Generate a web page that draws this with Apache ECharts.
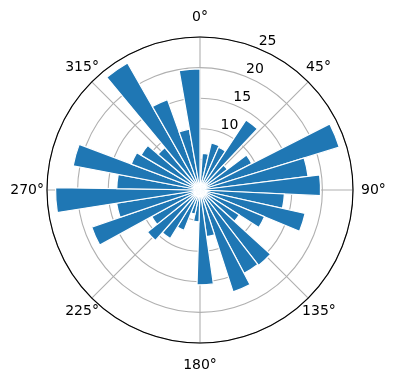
<!DOCTYPE html>
<html>
<head>
<meta charset="utf-8">
<script src="https://cdn.jsdelivr.net/npm/echarts@6/dist/echarts.min.js"></script>
<style>
  html, body { margin: 0; padding: 0; background: #fff; }
  #chart { width: 396px; height: 380px; }
</style>
</head>
<body>
<div id="chart"></div>
<script>
// bin centres (deg, clockwise from north) and bar heights
const directions = [8.55, 18.45, 28.35, 38.25, 48.15, 58.05, 67.95, 77.85, 87.75, 97.65,
  107.55, 117.45, 127.35, 137.25, 147.15, 157.05, 166.95, 176.85, 186.75, 196.65,
  206.55, 216.45, 226.35, 236.25, 246.15, 256.05, 265.95, 275.85, 285.75, 295.65,
  305.55, 315.45, 325.35, 335.25, 345.15, 355.05]
const counts = [6.0, 7.9, 7.6, 13.7, 5.6, 9.5, 23.8, 17.8, 19.7, 13.8,
  17.6, 11.4, 7.6, 15.6, 15.4, 17.5, 7.7, 15.5, 5.2, 4.0,
  7.1, 9.3, 11.0, 9.0, 18.7, 13.8, 23.6, 13.6, 21.1, 12.0,
  11.2, 9.0, 23.9, 15.7, 10.1, 19.8]
const binWidth = 9.9
const radialTicks = [0, 5, 10, 15, 20, 25]

const font = 'DejaVu Sans'
const txt = { color: '#000', fontFamily: font, fontSize: 14, lineHeight: 16 }
// echarts anchors angle labels by their edge; padding nudges them to sit
// centred around the circle like the original
const labelPad = {
  0: [0, 0, 44, 0],
  45: [0, 0, 28, 5],
  90: [0, 0, 0, 18],
  135: [24, 0, 0, 1],
  180: [48, 0, 0, 0],
  225: [24, 0, 0, 0],
  270: [0, 13, 0, 0],
  315: [0, 0, 28, 0]
}
const rich = {}
Object.keys(labelPad).forEach(k => { rich['a' + k] = Object.assign({ padding: labelPad[k] }, txt) })

const myChart = echarts.init(document.getElementById('chart'))

myChart.setOption({
  animation: false,
  polar: [
    { center: [200, 190], radius: 153 },
    // same scale, pushed out a bit, just to hold the radial tick labels
    { center: [200, 190], radius: [10, 163] }
  ],
  angleAxis: [{
    polarIndex: 0,
    type: 'value',
    min: 0,
    max: 360,
    interval: 45,
    startAngle: 90,
    clockwise: true,
    axisLine: { lineStyle: { color: '#000', width: 1.1 } },
    axisTick: { show: false },
    axisLabel: {
      formatter: v => (labelPad[v] ? '{a' + v + '|' + v + '°}' : ''),
      margin: -10,
      color: '#000',
      fontFamily: font,
      fontSize: 14,
      rich: rich
    },
    splitLine: { lineStyle: { color: '#b0b0b0', width: 1.1 } }
  }, {
    polarIndex: 1,
    type: 'value',
    min: 0,
    max: 360,
    startAngle: 65.5,
    clockwise: true,
    axisLine: { show: false },
    axisTick: { show: false },
    axisLabel: { show: false },
    splitLine: { show: false }
  }],
  radiusAxis: [{
    polarIndex: 0,
    type: 'value',
    min: radialTicks[0],
    max: radialTicks[radialTicks.length - 1],
    interval: 5,
    axisLine: { show: false },
    axisTick: { show: false },
    axisLabel: { show: false },
    splitLine: { lineStyle: { color: '#b0b0b0', width: 1.1 } }
  }, {
    polarIndex: 1,
    type: 'value',
    min: radialTicks[0],
    max: radialTicks[radialTicks.length - 1],
    interval: 5,
    axisLine: { show: false },
    axisTick: { show: false },
    splitLine: { show: false },
    axisLabel: {
      color: '#000',
      fontFamily: font,
      fontSize: 14,
      margin: 0,
      align: 'center',
      verticalAlign: 'middle',
      formatter: v => (v === 0 ? '' : String(v))
    }
  }],
  series: [{
    type: 'custom',
    coordinateSystem: 'polar',
    polarIndex: 0,
    data: counts.map((c, i) => [c, directions[i]]),
    encode: { radius: 0, angle: 1 },
    renderItem: (params, api) => {
      const cs = params.coordSys
      const r = api.value(0)
      const a = api.value(1)
      const p1 = api.coord([r, a - binWidth / 2])
      const p2 = api.coord([r, a + binWidth / 2])
      const len = Math.hypot(p1[0] - cs.cx, p1[1] - cs.cy)
      const s = Math.atan2(p1[1] - cs.cy, p1[0] - cs.cx)
      let e = Math.atan2(p2[1] - cs.cy, p2[0] - cs.cx)
      if (e < s) e += Math.PI * 2
      return {
        type: 'sector',
        shape: { cx: cs.cx, cy: cs.cy, r0: 0, r: len, startAngle: s, endAngle: e, clockwise: true },
        style: { fill: '#1f77b4', stroke: '#fff', lineWidth: 1.2 }
      }
    }
  }]
})
</script>
</body>
</html>
